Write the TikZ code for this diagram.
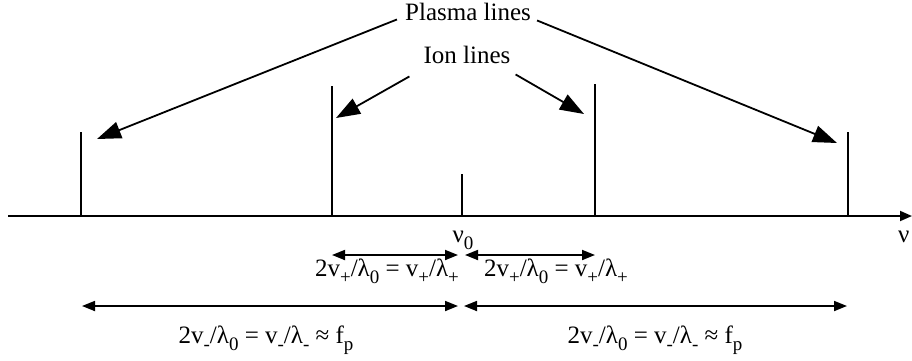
\documentclass[tikz,border=0pt]{standalone}
\usepackage{fontspec}
\setmainfont{Liberation Serif}
\usetikzlibrary{arrows.meta}
\newcommand{\lowsub}[1]{\raisebox{-0.28em}{\fontsize{19}{19}\selectfont #1}}
\tikzset{
  lbl/.style={inner sep=0pt, font=\fontsize{25}{30}\selectfont},
  stick/.style={line width=1.8pt},
  pointer/.style={line width=1.8pt, -{Triangle[length=24pt,width=17pt]}},
  span/.style={line width=1.8pt, {Triangle[length=13pt,width=10pt]}-{Triangle[length=13pt,width=10pt]}},
  axisline/.style={line width=1.8pt, -{Triangle[length=12pt,width=10pt]}}
}
\begin{document}
\begin{tikzpicture}[x=1pt,y=-1pt]
\useasboundingbox (0,0) rectangle (912,360);
% axis
\coordinate (ax0) at (8,216);
\coordinate (ax1) at (912,216);
\draw[axisline] (ax0) -- (ax1);
% spectral lines
\coordinate (b1) at (81,216);  \coordinate (t1) at (81,132);
\coordinate (b2) at (332,216); \coordinate (t2) at (332,86);
\coordinate (b3) at (462,216); \coordinate (t3) at (462,174);
\coordinate (b4) at (595,216); \coordinate (t4) at (595,84);
\coordinate (b5) at (848,216); \coordinate (t5) at (848,132);
\foreach \i in {1,...,5} \draw[stick] (b\i) -- (t\i);
% labels on top
\node[lbl, anchor=base] (P) at (468,20) {Plasma lines};
\node[lbl, anchor=base] (I) at (467,63) {Ion lines};
% arrow tips
\coordinate (pl) at (97,139);
\coordinate (pr) at (837,143);
\coordinate (il) at (336,118);
\coordinate (ir) at (584,114);
\draw[pointer] ([xshift=-8pt,yshift=1pt]P.south west) -- (pl);
\draw[pointer] ([xshift=6pt]P.south east) -- (pr);
\draw[pointer] ([xshift=-14pt,yshift=-13pt]I.south west) -- (il);
\draw[pointer] ([xshift=5pt,yshift=-11pt]I.south east) -- (ir);
% axis labels
\node[lbl, anchor=base] (nu0) at (463,242) {ν\lowsub{0}};
\node[lbl, anchor=base west] (nu) at (898,242) {ν};
% spans row 1
\coordinate (s1a) at (332,255); \coordinate (s1b) at (458,255);
\coordinate (s2a) at (465,255); \coordinate (s2b) at (595,255);
\draw[span] (s1a) -- (s1b);
\draw[span] (s2a) -- (s2b);
\node[lbl, anchor=base] (L1) at (387,276) {2v\lowsub{+}/λ\lowsub{0} = v\lowsub{+}/λ\lowsub{+}};
\node[lbl, anchor=base] (L2) at (556,276) {2v\lowsub{+}/λ\lowsub{0} = v\lowsub{+}/λ\lowsub{+}};
% spans row 2
\coordinate (s3a) at (82,306); \coordinate (s3b) at (458,306);
\coordinate (s4a) at (464,306); \coordinate (s4b) at (847,306);
\draw[span] (s3a) -- (s3b);
\draw[span] (s4a) -- (s4b);
\node[lbl, anchor=base] (L3) at (266,343) {2v\lowsub{-}/λ\lowsub{0} = v\lowsub{-}/λ\lowsub{-} ≈ f\lowsub{p}};
\node[lbl, anchor=base] (L4) at (655,343) {2v\lowsub{-}/λ\lowsub{0} = v\lowsub{-}/λ\lowsub{-} ≈ f\lowsub{p}};
\end{tikzpicture}
\end{document}
